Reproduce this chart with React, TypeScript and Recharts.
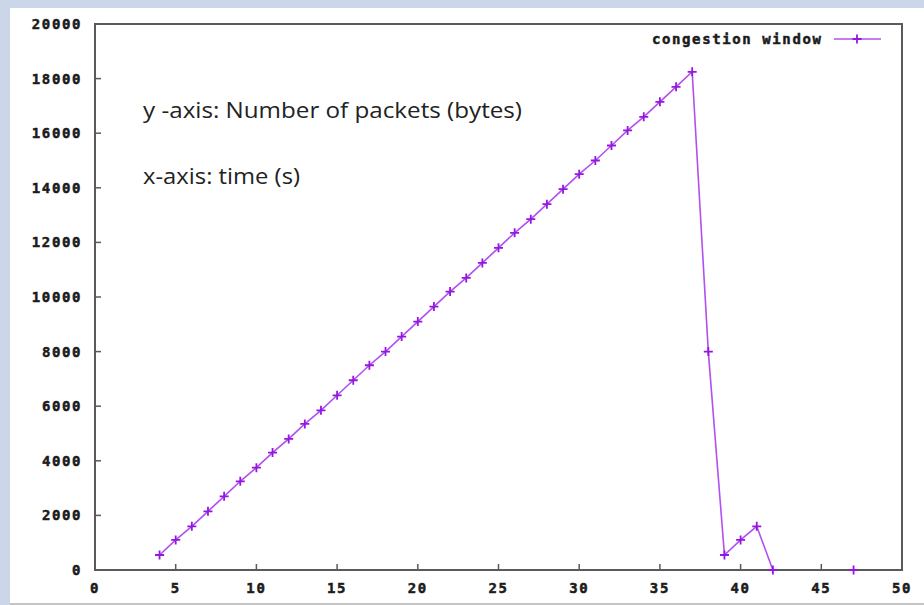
import { LineChart, Line, XAxis, YAxis, Legend, ReferenceArea } from "recharts";

// time (s) and congestion window (bytes)
const times = [4, 5, 6, 7, 8, 9, 10, 11, 12, 13, 14, 15, 16, 17, 18, 19, 20, 21, 22, 23, 24, 25,
  26, 27, 28, 29, 30, 31, 32, 33, 34, 35, 36, 37, 38, 39, 40, 41, 42, 43, 44, 45, 46, 47];
const cwnd: (number | null)[] = [550, 1100, 1600, 2150, 2700, 3250, 3750, 4300, 4800, 5350, 5850,
  6400, 6950, 7500, 8000, 8550, 9100, 9650, 10200, 10700, 11250, 11800, 12350, 12850, 13400,
  13950, 14500, 15000, 15550, 16100, 16600, 17150, 17700, 18250, 8000, 550, 1100, 1600, 0,
  null, null, null, null, 0];

const xTicks = [0, 5, 10, 15, 20, 25, 30, 35, 40, 45, 50];
const yTicks = [0, 2000, 4000, 6000, 8000, 10000, 12000, 14000, 16000, 18000, 20000];

const seriesName = "congestion window";
const notes = ["y -axis: Number of packets (bytes)", "x-axis: time (s)"];

const data = times.map((t, i) => ({ t, cwnd: cwnd[i] }));

const LINE = "#b24ff0";
const MARK = "#9417e0";
const FRAME = "#5a5a5a";
const tickFont = {
  fontFamily: "DejaVu Sans Mono",
  fontWeight: "bold",
  fontSize: 14,
  fill: "#1c1c1c",
  stroke: "#1c1c1c",
  strokeWidth: 0.5,
  letterSpacing: 1.6,
};

const PlusDot = (props: any) => {
  const { cx, cy, value } = props;
  if (cx == null || cy == null || value == null || Number.isNaN(cy)) return <g key={props.key} />;
  return (
    <path
      key={props.key}
      d={`M${cx - 4.5},${cy}h9M${cx},${cy - 4.5}v9`}
      stroke={MARK}
      strokeWidth={1.8}
      fill="none"
    />
  );
};

const renderLegend = () => (
  <div style={{ display: "flex", alignItems: "center", height: 14 }}>
    <span
      style={{
        fontFamily: "DejaVu Sans Mono",
        fontWeight: "bold",
        fontSize: 14,
        letterSpacing: 1.6,
        color: "#1c1c1c",
        WebkitTextStroke: "0.5px #1c1c1c",
        lineHeight: "14px",
      }}
    >
      {seriesName}
    </span>
    <svg width={50} height={12} style={{ marginLeft: 10 }}>
      <line x1={1} y1={6} x2={48} y2={6} stroke={LINE} strokeWidth={1.6} />
      <path d="M19.5,6h9M24,1.5v9" stroke={MARK} strokeWidth={1.8} />
    </svg>
  </div>
);

export default function App() {
  return (
    <div style={{ position: "absolute", left: 0, top: 0, width: 924, height: 605, background: "#cbd6e8" }}>
      <div
        style={{
          position: "absolute",
          left: 10,
          top: 8,
          width: 914,
          height: 595,
          background: "#fff",
          borderBottom: "2px solid #c4c4c4",
        }}
      />
      <div style={{ position: "absolute", left: 0, top: 0 }}>
        <LineChart width={924} height={605} data={data} margin={{ top: 23, right: 21, bottom: 5, left: 35 }}>
          <XAxis
            xAxisId="bottom"
            dataKey="t"
            type="number"
            domain={[0, 50]}
            ticks={xTicks}
            interval={0}
            height={30}
            tickSize={-6}
            tickMargin={19}
            axisLine={false}
            tickLine={{ stroke: FRAME, strokeWidth: 1.5 }}
            tick={tickFont}
          />
          <XAxis
            xAxisId="top"
            orientation="top"
            dataKey="t"
            type="number"
            domain={[0, 50]}
            ticks={xTicks}
            interval={0}
            height={1}
            tickSize={-6}
            tick={false}
            axisLine={false}
            tickLine={{ stroke: FRAME, strokeWidth: 1.5 }}
          />
          <YAxis
            yAxisId="left"
            type="number"
            domain={[0, 20000]}
            ticks={yTicks}
            interval={0}
            width={60}
            tickSize={-6}
            tickMargin={19}
            axisLine={false}
            tickLine={{ stroke: FRAME, strokeWidth: 1.5 }}
            tick={tickFont}
          />
          <YAxis
            yAxisId="right"
            orientation="right"
            type="number"
            domain={[0, 20000]}
            ticks={yTicks}
            interval={0}
            width={1}
            tickSize={-6}
            tick={false}
            axisLine={false}
            tickLine={{ stroke: FRAME, strokeWidth: 1.5 }}
          />
          <ReferenceArea
            xAxisId="bottom"
            yAxisId="left"
            x1={0}
            x2={50}
            y1={0}
            y2={20000}
            fill="none"
            stroke={FRAME}
            strokeWidth={2}
            ifOverflow="visible"
          />
          <Legend
            layout="horizontal"
            verticalAlign="middle"
            content={renderLegend}
            wrapperStyle={{ position: "absolute", left: 652, top: 32, width: 250 }}
          />
          <Line
            xAxisId="bottom"
            yAxisId="left"
            dataKey="cwnd"
            name={seriesName}
            type="linear"
            stroke={LINE}
            strokeWidth={1.6}
            dot={PlusDot}
            activeDot={false}
            isAnimationActive={false}
          />
        </LineChart>
      </div>
      <svg
        width={924}
        height={605}
        style={{ position: "absolute", left: 0, top: 0, pointerEvents: "none" }}
      >
        <text x={143} y={118} fontFamily="Open Sans" fontSize={21} fill="#222" textLength={379} lengthAdjust="spacingAndGlyphs">
          {notes[0]}
        </text>
        <text x={143} y={184} fontFamily="Open Sans" fontSize={21} fill="#222" textLength={157} lengthAdjust="spacingAndGlyphs">
          {notes[1]}
        </text>
      </svg>
    </div>
  );
}
